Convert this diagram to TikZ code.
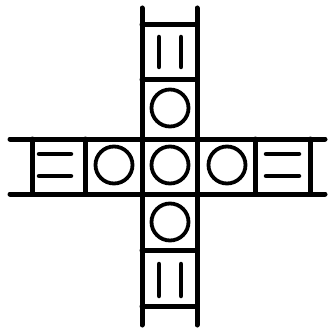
\documentclass[tikz,border=0pt]{standalone}
\begin{document}
\begin{tikzpicture}[x=1pt,y=-1pt,
  band/.style={line width=5pt,line cap=round},
  tick/.style={line width=4.5pt,line cap=round},
  ring/.style={line width=3.8pt,circle,minimum size=37pt,inner sep=0pt,draw}]
\useasboundingbox (0,0) rectangle (331,331);
% vertical band rails
\draw[band] (142,8) -- (142,325);
\draw[band] (197,8) -- (197,325);
% horizontal band rails
\draw[band] (10,139) -- (325,139);
\draw[band] (10,194) -- (325,194);
% cross bars vertical
\foreach \y in {25,80,250,306} \draw[band] (142,\y) -- (197,\y);
% cross bars horizontal
\foreach \x in {32,85,255,310} \draw[band] (\x,139) -- (\x,194);
% dashes top / bottom
\draw[tick] (159,37) -- (159,67);
\draw[tick] (181,37) -- (181,67);
\draw[tick] (159,264) -- (159,296);
\draw[tick] (181,264) -- (181,296);
% dashes left / right
\draw[tick] (39,154) -- (71,154);
\draw[tick] (39,176) -- (71,176);
\draw[tick] (266,154) -- (299,154);
\draw[tick] (266,176) -- (299,176);
% circles
\node[ring] (top) at (170,108) {};
\node[ring] (mid) at (170,165) {};
\node[ring] (lft) at (114,165) {};
\node[ring] (rgt) at (227,165) {};
\node[ring] (bot) at (170,222) {};
\end{tikzpicture}
\end{document}
